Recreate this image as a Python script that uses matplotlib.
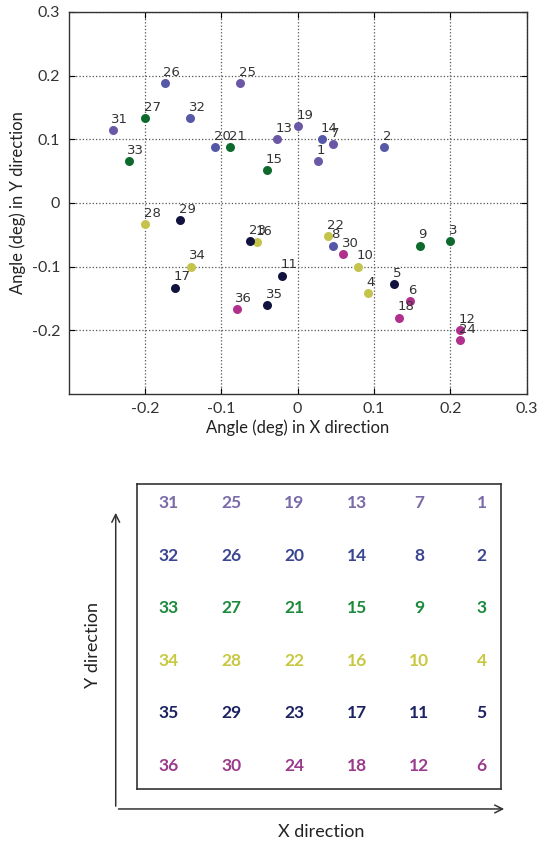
import matplotlib
matplotlib.use("Agg")
import matplotlib.pyplot as plt
from matplotlib.patches import FancyArrowPatch

# point numbers 1..36 and their measured angles (deg)
pointIds = list(range(1, 37))
xAngles = [0.027, 0.113, 0.200, 0.092, 0.126, 0.147,
           0.046, 0.046, 0.160, 0.079, -0.020, 0.213,
           -0.027, 0.032, -0.040, -0.053, -0.161, 0.133,
           0.000, -0.108, -0.088, 0.040, -0.062, 0.213,
           -0.075, -0.174, -0.200, -0.200, -0.154, 0.060,
           -0.242, -0.141, -0.221, -0.140, -0.040, -0.080]
yAngles = [0.066, 0.088, -0.060, -0.141, -0.127, -0.154,
           0.093, -0.067, -0.067, -0.100, -0.114, -0.200,
           0.100, 0.100, 0.052, -0.061, -0.133, -0.180,
           0.121, 0.088, 0.088, -0.052, -0.060, -0.215,
           0.188, 0.188, 0.134, -0.033, -0.027, -0.080,
           0.114, 0.134, 0.066, -0.100, -0.160, -0.167]

# one colour per row of the grid (row = (id-1) % 6)
dotColors = ['#6a58a6', '#5558a6', '#0d6a2c', '#c4c44c', '#12123f', '#b0308e']
gridTextColors = ['#7a6aaa', '#3a4690', '#1c8a3c', '#c8c840', '#1c2262', '#9a3a8c']

xTicks = [-0.2, -0.1, 0, 0.1, 0.2, 0.3]
yTicks = [-0.2, -0.1, 0, 0.1, 0.2, 0.3]
tickLabels = ['-0.2', '-0.1', '0', '0.1', '0.2', '0.3']

nCols = 6
nRows = 6

if __name__ == "__main__":
    fig = plt.figure(figsize=(5.4, 8.44), dpi=100)

    ## Scatter of measured angles
    ax1 = fig.add_axes([0.1269, 0.5332, 0.8485, 0.4526])
    for i, pid in enumerate(pointIds):
        row = (pid - 1) % nRows
        ax1.scatter(xAngles[i], yAngles[i], s=42, color=dotColors[row], zorder=3, linewidths=0)
        ax1.annotate(str(pid), (xAngles[i], yAngles[i]), xytext=(-1, 3), textcoords='offset points',
                     ha='left', va='bottom', fontsize=9.5, color='#333333', zorder=4)
    ax1.set_xlim(-0.3, 0.3)
    ax1.set_ylim(-0.3, 0.3)
    ax1.set_xticks(xTicks)
    ax1.set_yticks(yTicks)
    ax1.set_xticklabels(tickLabels, fontfamily='Lato', fontsize=11.5, color='#333333')
    ax1.set_yticklabels(tickLabels, fontfamily='Lato', fontsize=11.5, color='#333333')
    ax1.grid(True, linestyle=':', color='#555555', linewidth=0.9)
    ax1.tick_params(direction='in', top=True, right=True, length=4, pad=6)
    for sp in ax1.spines.values():
        sp.set_linewidth(1.0)
        sp.set_color('#333333')
    ax1.set_xlabel('Angle (deg) in X direction', fontfamily='Lato', fontsize=12, color='#222222', labelpad=2)
    ax1.set_ylabel('Angle (deg) in Y direction', fontfamily='Lato', fontsize=12, color='#222222', labelpad=4)

    ## Layout diagram of the numbered grid
    ax2 = fig.add_axes([0.2531, 0.0652, 0.6746, 0.3610])
    for col in range(nCols):
        for row in range(nRows):
            pid = (nCols - 1 - col) * nRows + row + 1
            ax2.text(col, row, str(pid), ha='center', va='center', fontfamily='Lato',
                     fontweight='bold', fontsize=12.5, color=gridTextColors[row])
    ax2.set_xlim(-0.516, 5.309)
    ax2.set_ylim(5.444, -0.362)
    ax2.set_xticks([])
    ax2.set_yticks([])
    for sp in ax2.spines.values():
        sp.set_linewidth(1.2)
        sp.set_color('#333333')

    # direction arrows
    arrowY = FancyArrowPatch((0.2143, 0.0415), (0.2143, 0.3957), transform=fig.transFigure,
                             arrowstyle='->', mutation_scale=14, linewidth=1.1, color='#333333')
    arrowX = FancyArrowPatch((0.2143, 0.0415), (0.9389, 0.0415), transform=fig.transFigure,
                             arrowstyle='->', mutation_scale=14, linewidth=1.1, color='#333333')
    fig.add_artist(arrowY)
    fig.add_artist(arrowX)
    fig.text(0.594, 0.0146, 'X direction', ha='center', va='center', fontfamily='Lato', fontsize=13, color='#222222')
    fig.text(0.172, 0.2358, 'Y direction', ha='center', va='center', rotation=90, fontfamily='Lato',
             fontsize=13, color='#222222')

    fig.savefig("out.png", dpi=100)
